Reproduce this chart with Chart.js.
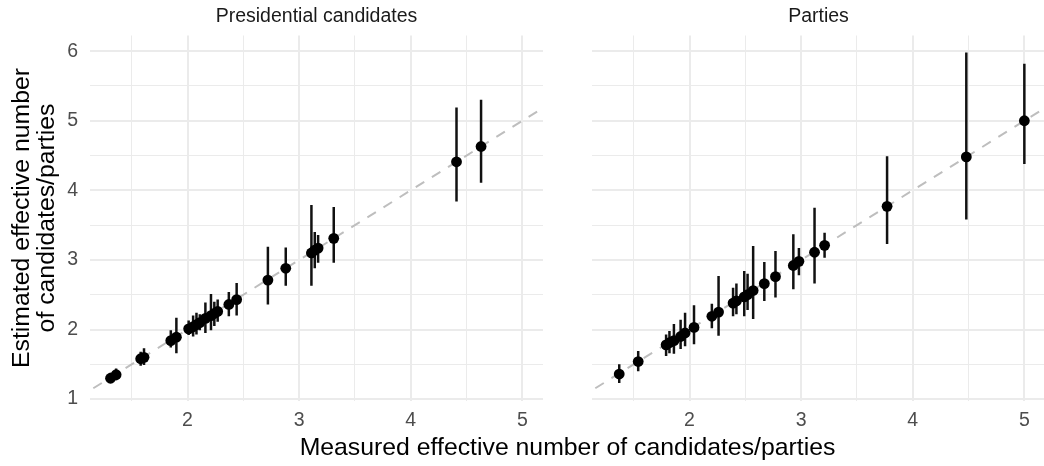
<!DOCTYPE html>
<html><head><meta charset="utf-8">
<script src="https://cdn.jsdelivr.net/npm/chart.js@4.4.1/dist/chart.umd.min.js"></script>
<style>
html,body{margin:0;padding:0;background:#fff;width:1044px;height:466px;overflow:hidden;}
#wrap{position:relative;width:1044px;height:466px;overflow:hidden;}
canvas{position:absolute;top:0;}
#xtitle{position:absolute;left:90px;width:955px;top:433px;text-align:center;font-family:"Liberation Sans",Arial,sans-serif;font-size:24.8px;color:#000;line-height:28px;white-space:nowrap;}
</style></head><body>
<div id="wrap">
<canvas id="c1" width="543" height="466" style="left:0px"></canvas>
<canvas id="c2" width="453" height="466" style="left:592px"></canvas>
<div id="xtitle">Measured effective number of candidates/parties</div>
</div>
<script>
// ---- data ----
const panelTitles = ['Presidential candidates', 'Parties'];
const yTitle = ['Estimated effective number', 'of candidates/parties'];

const presX  = [1.31,1.36,1.58,1.61,1.85,1.90,2.01,2.05,2.08,2.11,2.16,2.21,2.24,2.27,2.37,2.44,2.72,2.88,3.11,3.14,3.17,3.31,4.41,4.63];
const presY  = [1.30,1.35,1.58,1.60,1.84,1.89,2.01,2.04,2.07,2.10,2.16,2.20,2.23,2.26,2.36,2.43,2.71,2.88,3.10,3.14,3.17,3.31,4.41,4.63];
const presLo = [1.24,1.27,1.48,1.49,1.74,1.66,1.92,1.90,1.93,1.99,1.95,1.99,2.05,2.11,2.19,2.20,2.36,2.63,2.63,2.88,2.96,2.96,3.84,4.11];
const presHi = [1.38,1.44,1.68,1.73,1.99,2.17,2.13,2.20,2.24,2.22,2.39,2.51,2.40,2.43,2.54,2.67,3.19,3.18,3.79,3.40,3.36,3.76,5.19,5.30];

const partyX  = [1.37,1.54,1.79,1.82,1.86,1.92,1.96,2.04,2.20,2.26,2.39,2.42,2.49,2.52,2.57,2.67,2.77,2.93,2.98,3.12,3.21,3.77,4.48,5.00];
const partyY  = [1.36,1.54,1.78,1.81,1.84,1.90,1.95,2.03,2.19,2.25,2.38,2.41,2.47,2.50,2.56,2.66,2.76,2.92,2.98,3.11,3.21,3.77,4.48,5.00];
const partyLo = [1.23,1.40,1.62,1.66,1.65,1.72,1.76,1.79,2.02,1.91,2.19,2.22,2.19,2.28,2.15,2.41,2.46,2.58,2.78,2.66,3.03,3.23,3.58,4.38];
const partyHi = [1.50,1.69,1.93,1.98,2.08,2.14,2.24,2.35,2.37,2.77,2.60,2.66,2.84,2.80,3.20,2.97,3.13,3.37,3.17,3.75,3.39,4.49,5.98,5.82];

const xMajorTicks = [2, 3, 4, 5];
const xMinorTicks = [1.5, 2.5, 3.5, 4.5];
const yMajorTicks = [1, 2, 3, 4, 5, 6];
const yMinorTicks = [1.5, 2.5, 3.5, 4.5, 5.5];
const refLine = [0, 8];          // y = x reference line endpoints
const xLimits = [1.126, 5.185];
const yLimits = [0.98, 6.225];

// ---- chart ----
Chart.defaults.font.family = '"Liberation Sans", Arial, sans-serif';
const FONT = '"Liberation Sans", Arial, sans-serif';

function gridOpts(majors) {
  return {
    color: '#EBEBEB',
    lineWidth: (ctx) => (ctx.tick && majors.includes(ctx.tick.value)) ? 2 : 1,
    drawTicks: false
  };
}

function makeChart(id, title, xs, ys, los, his, showY) {
  const bars = [];
  for (let i = 0; i < xs.length; i++) {
    bars.push({x: xs[i], y: los[i]});
    bars.push({x: xs[i], y: his[i]});
    bars.push({x: xs[i], y: null});
  }
  const pts = xs.map((x, i) => ({x: x, y: ys[i]}));
  const ref = refLine.map(v => ({x: v, y: v}));

  return new Chart(document.getElementById(id), {
    type: 'scatter',
    data: {
      datasets: [
        { data: pts, backgroundColor: '#000', borderColor: '#000', pointRadius: 5.4, pointHoverRadius: 5.4, borderWidth: 0, clip: 0 },
        { data: bars, showLine: true, spanGaps: false, borderColor: '#111', borderWidth: 2.5, borderCapStyle: 'butt', pointRadius: 0, pointHoverRadius: 0, clip: 0 },
        { data: ref, showLine: true, borderColor: '#BEBEBE', borderWidth: 2, borderDash: [10, 9], pointRadius: 0, pointHoverRadius: 0, clip: 0 }
      ]
    },
    options: {
      responsive: false,
      animation: false,
      devicePixelRatio: 1,
      events: [],
      layout: { padding: 0, autoPadding: false },
      plugins: {
        legend: { display: false },
        tooltip: { enabled: false },
        title: {
          display: true, text: title, color: '#1A1A1A', fullSize: false,
          font: { family: FONT, size: 19.5, weight: 'normal', lineHeight: 1.2 },
          padding: { top: 5.3, bottom: 6.8 }
        }
      },
      scales: {
        x: {
          type: 'linear', min: xLimits[0], max: xLimits[1],
          afterBuildTicks: (s) => { s.ticks = [...xMinorTicks, ...xMajorTicks].sort((a,b)=>a-b).map(v => ({value: v})); },
          afterFit: (s) => { s.height = 65.5; },
          grid: gridOpts(xMajorTicks),
          border: { display: false },
          ticks: {
            autoSkip: false, maxRotation: 0, padding: 8, color: '#4D4D4D',
            font: { family: FONT, size: 19.5 },
            callback: (v) => xMajorTicks.includes(v) ? String(v) : ''
          }
        },
        y: {
          type: 'linear', min: yLimits[0], max: yLimits[1],
          afterBuildTicks: (s) => { s.ticks = [...yMinorTicks, ...yMajorTicks].sort((a,b)=>a-b).map(v => ({value: v})); },
          afterFit: (s) => { s.width = showY ? 90 : 0; },
          grid: gridOpts(yMajorTicks),
          border: { display: false },
          title: {
            display: showY, text: yTitle, color: '#000',
            font: { family: FONT, size: 24.8, lineHeight: 1.0 },
            padding: { top: 9.5, bottom: 0 }
          },
          ticks: {
            display: showY, autoSkip: false, padding: 12, color: '#4D4D4D',
            font: { family: FONT, size: 19.5 },
            callback: (v) => yMajorTicks.includes(v) ? String(v) : ''
          }
        }
      }
    }
  });
}

makeChart('c1', panelTitles[0], presX, presY, presLo, presHi, true);
makeChart('c2', panelTitles[1], partyX, partyY, partyLo, partyHi, false);
</script>
</body></html>
